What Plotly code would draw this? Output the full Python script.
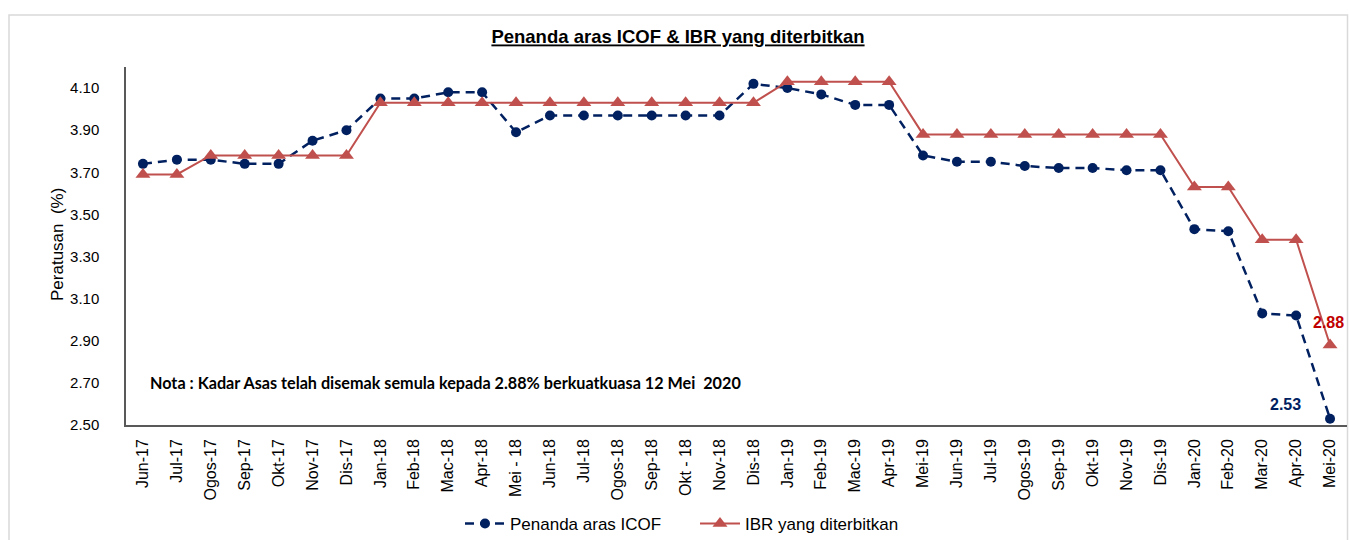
import plotly.graph_objects as go

categories = ["Jun-17", "Jul-17", "Ogos-17", "Sep-17", "Okt-17", "Nov-17", "Dis-17",
              "Jan-18", "Feb-18", "Mac-18", "Apr-18", "Mei - 18", "Jun-18", "Jul-18",
              "Ogos-18", "Sep-18", "Okt - 18", "Nov-18", "Dis-18",
              "Jan-19", "Feb-19", "Mac-19", "Apr-19", "Mei-19", "Jun-19", "Jul-19",
              "Ogos-19", "Sep-19", "Okt-19", "Nov-19", "Dis-19",
              "Jan-20", "Feb-20", "Mar-20", "Apr-20", "Mei-20"]

icof = [3.74, 3.76, 3.76, 3.74, 3.74, 3.85, 3.90,
        4.05, 4.05, 4.08, 4.08, 3.89, 3.97, 3.97,
        3.97, 3.97, 3.97, 3.97, 4.12,
        4.10, 4.07, 4.02, 4.02, 3.78, 3.75, 3.75,
        3.73, 3.72, 3.72, 3.71, 3.71,
        3.43, 3.42, 3.03, 3.02, 2.53]

ibr = [3.69, 3.69, 3.78, 3.78, 3.78, 3.78, 3.78,
       4.03, 4.03, 4.03, 4.03, 4.03, 4.03, 4.03,
       4.03, 4.03, 4.03, 4.03, 4.03,
       4.13, 4.13, 4.13, 4.13, 3.88, 3.88, 3.88,
       3.88, 3.88, 3.88, 3.88, 3.88,
       3.63, 3.63, 3.38, 3.38, 2.88]

BLUE = "#002060"
RED = "#C0504D"
FONT = "Liberation Sans, Arial, sans-serif"

fig = go.Figure()
fig.add_trace(go.Scatter(
    x=categories, y=icof, name="Penanda aras ICOF", mode="lines+markers",
    line=dict(color=BLUE, width=2.5, dash="9px,6px"),
    marker=dict(symbol="circle", size=10, color=BLUE),
))
fig.add_trace(go.Scatter(
    x=categories, y=ibr, name="IBR yang diterbitkan", mode="lines+markers",
    line=dict(color=RED, width=2),
    marker=dict(symbol="triangle-up", size=13, color=RED),
))

W, H = 1349, 540
L, T = 126, 67
R = W - 1347
B = H - 425
pw, ph = W - L - R, H - T - B

def px(xr):
    return (xr - L) / pw

def py(yr):
    return (H - B - yr) / ph

fig.update_layout(
    width=W, height=H,
    margin=dict(l=L, r=R, t=T, b=B, autoexpand=False),
    paper_bgcolor="white", plot_bgcolor="white",
    font=dict(family=FONT, size=16, color="#000000"),
    showlegend=True,
    legend=dict(orientation="h", x=px(460), y=py(524), xanchor="left", yanchor="middle",
                font=dict(size=17), itemwidth=40, entrywidth=180, tracegroupgap=0),
    title=dict(text="<b><u>Penanda aras ICOF & IBR yang diterbitkan</u></b>",
               x=px(678), xref="paper", xanchor="center", y=1 - 37 / H, yanchor="middle",
               font=dict(size=18.5, family=FONT)),
)

fig.update_xaxes(
    type="category", range=[-0.5, len(categories) - 0.5], autorange=False,
    tickangle=-90, showline=True, linecolor="#595959", linewidth=1.5,
    showgrid=False, ticks="", tickfont=dict(size=16), ticklabelstandoff=6, automargin=False,
)
fig.update_yaxes(
    range=[2.5, 4.2], autorange=False, tick0=2.5, dtick=0.2, tickformat=".2f",
    showline=True, linecolor="#595959", linewidth=1.5, showgrid=False, zeroline=False,
    ticks="", tickfont=dict(size=15), ticklabelstandoff=22, automargin=False,
)

fig.add_annotation(text="Peratusan\u00a0 (%)", textangle=-90, xref="paper", yref="paper",
                   x=px(57), y=py(245), xanchor="center", yanchor="middle",
                   showarrow=False, font=dict(size=17))
fig.add_annotation(text="<b>Nota : Kadar Asas telah disemak semula kepada 2.88% berkuatkuasa 12 Mei  2020</b>",
                   xref="paper", yref="paper", x=px(148), y=py(382), xanchor="left",
                   yanchor="middle", showarrow=False,
                   font=dict(size=16.2, family="Lato, Noto Sans, sans-serif"))
fig.add_annotation(text="<b>2.88</b>", x=categories[-1], y=ibr[-1], yshift=22, xshift=-2,
                   showarrow=False, font=dict(size=16, color="#C00000"))
fig.add_annotation(text="<b>2.53</b>", x=categories[-1], y=icof[-1], yshift=14, xshift=-45,
                   showarrow=False, font=dict(size=16, color=BLUE))

fig.add_shape(type="rect", xref="paper", yref="paper",
              x0=px(9), x1=px(1347.5), y0=py(545), y1=py(15),
              line=dict(color="#D9D9D9", width=1.5), layer="below")

html = fig.to_html(full_html=True, include_plotlyjs=True, config={"displayModeBar": False})
html = html.replace("<body>", '<body style="margin:0;overflow:hidden">', 1)
with open("out.html", "w", encoding="utf-8") as f:
    f.write(html)
